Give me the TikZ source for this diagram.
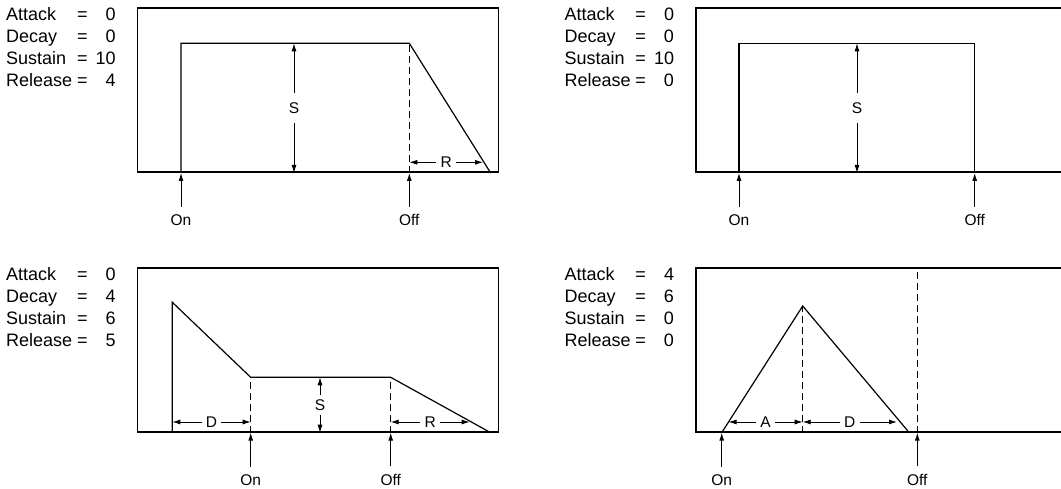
\documentclass[tikz,border=0pt]{standalone}
\usepackage{fontspec}
\setmainfont{Liberation Sans}
\usepackage{array}
\usetikzlibrary{arrows.meta,positioning}

\begin{document}
\begin{tikzpicture}[
    x=1pt, y=1pt,
    frame/.style={draw, line width=1.5pt, minimum width=361pt, minimum height=164pt, anchor=south west, inner sep=0pt},
    env/.style={line width=1.2pt, line join=miter},
    guide/.style={line width=1.1pt, dash pattern=on 7pt off 4pt},
    arr/.style={-{Latex[length=8pt,width=5pt]}, line width=0.9pt},
    dim/.style={font=\fontsize{15.5}{18}\selectfont, inner sep=4pt},
    key/.style={font=\fontsize{15.5}{18}\selectfont, inner xsep=0pt, inner ysep=7.5pt, anchor=base},
    params/.style={font=\fontsize{18}{22}\selectfont, inner sep=0pt, anchor=base west},
]
    \useasboundingbox (0,0) rectangle (1061,489);
    \clip (0,0) rectangle (1061,489);

    % top left: no attack, no decay
    \begin{scope}[shift={(136.7,316)}]
        \node[params] (par1) at (-130.7,152.3) {\begin{tabular}[t]{@{}p{65pt}@{\hspace{6pt}}c@{\hspace{8pt}}>{\raggedleft\arraybackslash}p{20pt}@{}}Attack & = & 0\\ Decay & = & 0\\ Sustain & = & 10\\ Release & = & 4\end{tabular}};
        \node[frame] (box1) at (0,0) {};
        \draw[env] (44.3,0) -- (44.3,129.7) -- (272.6,129.7) -- (354,0);
        \draw[guide] (272.6,0) -- (272.6,129.7);
        \node[dim, inner ysep=9pt] (s1) at (157.3,64.85) {S};
        \draw[arr] (s1) -- +(0,64.85);
        \draw[arr] (s1) -- (s1 |- box1.south);
        \node[dim] (r1) at (309.5,10.7) {R};
        \draw[arr] (r1) -- +(-36.9,0);
        \draw[arr] (r1) -- +(36.8,0);
        \node[key] (on1) at (44.3,-52.5) {On};
        \node[key] (off1) at (272.6,-52.5) {Off};
        \draw[arr] (on1.north) -- (on1 |- box1.south);
        \draw[arr] (off1.north) -- (off1 |- box1.south);
    \end{scope}

    % top right: gate only
    \begin{scope}[shift={(695,316)}]
        \node[params] (par2) at (-130.7,152.3) {\begin{tabular}[t]{@{}p{65pt}@{\hspace{6pt}}c@{\hspace{8pt}}>{\raggedleft\arraybackslash}p{20pt}@{}}Attack & = & 0\\ Decay & = & 0\\ Sustain & = & 10\\ Release & = & 0\end{tabular}};
        \node[frame, minimum width=372pt] (box2) at (0,0) {};
        \draw[env] (44,0) -- (44,129.7) -- (279.7,129.7) -- (279.7,0);
        \node[dim, inner ysep=9pt] (s2) at (162,64.85) {S};
        \draw[arr] (s2) -- +(0,64.85);
        \draw[arr] (s2) -- (s2 |- box2.south);
        \node[key] (on2) at (44,-52.5) {On};
        \node[key] (off2) at (279.7,-52.5) {Off};
        \draw[arr] (on2.north) -- (on2 |- box2.south);
        \draw[arr] (off2.north) -- (off2 |- box2.south);
    \end{scope}

    % bottom left: decay before note on
    \begin{scope}[shift={(136.7,56.3)}]
        \node[params] (par3) at (-130.7,152) {\begin{tabular}[t]{@{}p{65pt}@{\hspace{6pt}}c@{\hspace{8pt}}>{\raggedleft\arraybackslash}p{20pt}@{}}Attack & = & 0\\ Decay & = & 4\\ Sustain & = & 6\\ Release & = & 5\end{tabular}};
        \node[frame] (box3) at (0,0) {};
        \draw[env] (35.6,0) -- (35.6,130.4) -- (114,55.4) -- (254,55.4) -- (354,0);
        \draw[guide] (114,0) -- (114,55.4);
        \draw[guide] (254,0) -- (254,55.4);
        \node[dim] (s3) at (183.3,27.7) {S};
        \draw[arr] (s3) -- +(0,27.7);
        \draw[arr] (s3) -- (s3 |- box3.south);
        \node[dim] (d3) at (74.8,10.7) {D};
        \draw[arr] (d3) -- +(-39.2,0);
        \draw[arr] (d3) -- +(39.2,0);
        \node[dim] (r3) at (293.5,10.7) {R};
        \draw[arr] (r3) -- +(-39.5,0);
        \draw[arr] (r3) -- +(39.5,0);
        \node[key] (on3) at (114,-52.5) {On};
        \node[key] (off3) at (254,-52.5) {Off};
        \draw[arr] (on3.north) -- (on3 |- box3.south);
        \draw[arr] (off3.north) -- (off3 |- box3.south);
    \end{scope}

    % bottom right: attack and decay only
    \begin{scope}[shift={(695,56.3)}]
        \node[params] (par4) at (-130.7,152) {\begin{tabular}[t]{@{}p{65pt}@{\hspace{6pt}}c@{\hspace{8pt}}>{\raggedleft\arraybackslash}p{20pt}@{}}Attack & = & 4\\ Decay & = & 6\\ Sustain & = & 0\\ Release & = & 0\end{tabular}};
        \node[frame, minimum width=372pt] (box4) at (0,0) {};
        \draw[env] (26.7,0) -- (107.7,126.7) -- (214.3,0);
        \draw[guide] (107.7,0) -- (107.7,126.7);
        \draw[guide] (222.3,0) -- (222.3,164);
        \node[dim] (a4) at (70.6,10.7) {A};
        \draw[arr] (a4) -- +(-37.1,0);
        \draw[arr] (a4) -- +(37.1,0);
        \node[dim] (d4) at (154.8,10.7) {D};
        \draw[arr] (d4) -- +(-47.1,0);
        \draw[arr] (d4) -- +(47.2,0);
        \node[key] (on4) at (26.7,-52.5) {On};
        \node[key] (off4) at (222.3,-52.5) {Off};
        \draw[arr] (on4.north) -- (on4 |- box4.south);
        \draw[arr] (off4.north) -- (off4 |- box4.south);
    \end{scope}
\end{tikzpicture}
\end{document}
